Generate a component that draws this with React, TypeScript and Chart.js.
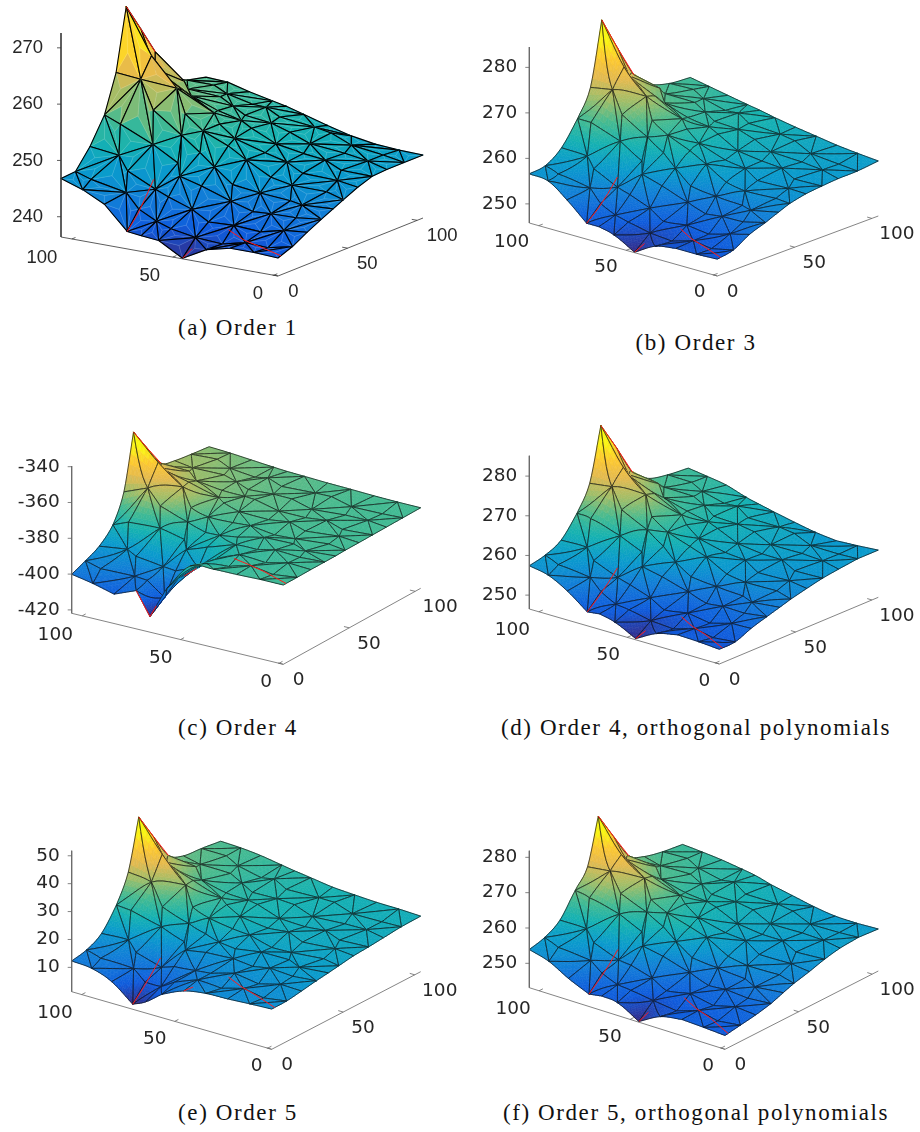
import React, { useEffect, useRef } from "react";
import { Chart, registerables } from "chart.js";

Chart.register(...registerables);

// Plate coordinates of the mesh rows (x) and columns (y), in percent of each axis
const meshX = [100, 90, 80, 69.5, 63, 55, 44, 33, 22, 11, 0];
const meshY = [0, 10, 20, 30, 38, 45, 55, 65, 75, 87, 100];

// Small displacements of the interior mesh nodes (the mesh is unstructured)
const nodeShiftX = [
  [1.5, -2, 2, -1, 1, 2, -2, 1, -1],
  [-2, 2, -1, 1.5, -2, 0, 2, -2, 1],
  [2, -1, -2, 1, 1, -1, -2, 2, 0],
  [0, 1.5, 1, -1, -1, 1, 2, -1, 2],
  [-1, -2, 2, 1, -2, 2, -1, 1, -2],
  [2, 1, -2, 2, 1, -2, 1, 2, -1],
  [-2, 2, 1, -2, 2, -1, -2, 1, 2],
  [1, -2, 2, 1, -1, 2, 1, -2, -1],
  [-1, 1, -1, 2, 1, -2, 2, 1, -2],
];
const nodeShiftY = [
  [-2, 2, 1, -1, 0, 2, -2, 2, -2],
  [2, -1, -2, 1, 0, -2, 2, -2, 2],
  [-1, 2, 2, -2, 1, 2, -1, 1, -1],
  [2, -2, 1, 1, -1, -2, 2, 2, -2],
  [1, 2, -2, -1, 0, 2, -2, -1, 2],
  [-2, 1, 2, 2, -1, -1, 2, -2, 1],
  [2, -2, -1, 1, 2, -2, -1, 2, -2],
  [-1, 2, 1, -2, 1, 2, -2, 1, 2],
  [2, -1, -2, 2, -2, 1, 2, -2, -1],
];

// Surface heights: one array per mesh column y, one value per mesh row x
const orderOneZ = [
  [246.8, 245.5, 243.6, 239.5, 239.2, 238.9, 236.5, 238.8, 239.8, 239.8, 239.6],
  [247.0, 246.4, 244.6, 242.2, 240.9, 239.9, 238.8, 239.1, 239.5, 239.9, 240.6],
  [250.4, 249.5, 247.4, 245.2, 243.8, 242.5, 241.1, 240.7, 241.0, 241.4, 242.1],
  [255.0, 254.0, 251.0, 248.5, 246.8, 245.3, 243.4, 242.7, 242.6, 243.0, 243.4],
  [261.7, 261.0, 256.5, 252.5, 250.0, 248.2, 245.8, 244.6, 244.2, 244.4, 244.4],
  [272.7, 264.6, 259.5, 255.8, 253.2, 251.2, 249.0, 247.3, 246.4, 245.9, 245.3],
  [267.7, 261.3, 258.0, 254.8, 253.0, 251.4, 249.8, 248.4, 247.5, 246.9, 246.5],
  [262.6, 258.0, 256.2, 254.3, 253.0, 251.8, 250.4, 249.4, 248.5, 247.8, 247.4],
  [256.8, 255.7, 254.9, 253.8, 253.0, 252.0, 250.8, 250.0, 249.0, 248.2, 247.6],
  [255.3, 255.0, 254.3, 253.4, 252.7, 252.0, 250.9, 250.2, 249.3, 248.4, 247.6],
  [254.5, 254.3, 253.3, 252.4, 251.9, 251.0, 249.8, 248.7, 248.0, 247.7, 247.6],
];
const orderThreeZ = [
  [256.6, 256.2, 253.2, 249.3, 249.3, 248.4, 245.9, 248.5, 249.3, 249.3, 249.5],
  [257.1, 256.5, 254.5, 252.0, 250.8, 249.8, 248.3, 248.8, 249.3, 249.6, 250.2],
  [259.7, 259.0, 257.3, 255.0, 253.4, 251.9, 250.3, 250.0, 250.3, 250.8, 252.3],
  [264.8, 265.0, 262.0, 259.0, 257.0, 255.0, 252.8, 252.0, 252.0, 252.6, 253.6],
  [270.6, 271.0, 267.0, 263.0, 260.5, 258.3, 255.6, 254.0, 253.6, 254.0, 254.8],
  [284.5, 275.3, 270.0, 266.0, 263.5, 261.2, 258.8, 257.0, 256.0, 255.6, 255.8],
  [276.9, 272.0, 268.5, 265.0, 263.0, 261.3, 259.3, 258.0, 257.0, 256.5, 256.6],
  [269.8, 268.0, 266.0, 264.0, 262.8, 261.5, 260.0, 259.0, 258.0, 257.3, 257.0],
  [266.4, 265.5, 264.7, 263.5, 262.7, 261.7, 260.3, 259.5, 258.5, 257.8, 257.3],
  [265.0, 264.7, 264.0, 263.0, 262.3, 261.6, 260.5, 259.7, 258.8, 258.0, 257.4],
  [264.6, 263.8, 263.0, 262.2, 261.7, 261.0, 260.2, 259.5, 258.8, 258.3, 257.9],
];
const orderFourZ = [
  [-400.1, -402.4, -405.5, -400.5, -413.2, -395.1, -379.5, -378.2, -378.0, -377.6, -377.6],
  [-396.8, -398.0, -400.0, -400.0, -406.0, -394.0, -384.0, -379.5, -378.5, -378.0, -377.6],
  [-392.9, -392.0, -393.0, -394.5, -397.0, -391.0, -383.5, -380.0, -378.5, -378.0, -377.5],
  [-385.2, -381.0, -382.0, -385.0, -388.0, -385.5, -381.0, -379.0, -378.0, -377.6, -377.5],
  [-370.2, -366.0, -372.0, -379.0, -382.5, -381.0, -379.0, -378.0, -377.6, -377.5, -377.5],
  [-339.7, -354.0, -365.0, -373.0, -376.5, -377.0, -377.5, -377.0, -377.0, -377.2, -377.3],
  [-353.0, -361.0, -367.0, -372.0, -374.5, -375.5, -376.0, -376.3, -376.8, -377.0, -377.3],
  [-365.7, -367.5, -369.5, -372.0, -373.5, -374.5, -375.3, -376.0, -376.5, -377.0, -377.2],
  [-368.5, -369.5, -371.0, -372.5, -373.5, -374.5, -375.3, -376.0, -376.5, -377.0, -377.1],
  [-370.0, -370.5, -372.0, -373.0, -374.0, -374.6, -375.5, -376.0, -376.5, -376.9, -377.0],
  [-371.3, -372.0, -373.0, -374.0, -374.6, -375.0, -375.6, -376.0, -376.5, -376.8, -376.9],
];
const orderFourOrthoZ = [
  [257.4, 256.4, 253.8, 250.0, 250.4, 249.4, 246.8, 249.6, 250.8, 250.6, 250.2],
  [258.4, 257.5, 255.5, 253.0, 251.5, 250.7, 249.0, 249.7, 250.2, 250.4, 250.4],
  [260.5, 260.0, 258.0, 255.8, 254.0, 252.5, 251.0, 250.8, 251.0, 251.4, 252.1],
  [265.6, 265.5, 262.5, 260.0, 257.5, 255.5, 253.4, 252.6, 252.5, 252.9, 253.4],
  [271.8, 272.0, 268.0, 264.0, 261.0, 258.5, 256.2, 254.5, 254.0, 254.2, 254.4],
  [285.2, 276.0, 270.5, 266.5, 263.5, 261.2, 259.2, 257.5, 256.5, 255.8, 255.3],
  [277.8, 272.5, 268.8, 265.2, 263.0, 261.3, 259.7, 258.4, 257.3, 256.7, 256.3],
  [270.0, 268.5, 266.5, 264.5, 262.8, 261.5, 260.3, 259.2, 258.3, 257.6, 257.2],
  [266.8, 266.0, 265.0, 263.8, 262.6, 261.5, 260.5, 259.6, 258.8, 258.2, 257.8],
  [265.7, 265.0, 264.3, 263.2, 262.3, 261.3, 260.4, 259.6, 258.9, 258.5, 258.4],
  [265.2, 264.5, 263.7, 262.1, 261.3, 260.4, 259.3, 258.3, 257.7, 258.0, 258.4],
];
const orderFiveZ = [
  [12.3, 11.7, 9.0, 3.1, 5.3, 9.6, 13.1, 14.5, 14.8, 15.3, 15.7],
  [13.5, 12.8, 10.8, 7.5, 8.5, 11.0, 13.3, 14.5, 15.0, 15.4, 15.8],
  [16.6, 16.2, 13.8, 11.5, 11.8, 13.0, 14.4, 15.2, 15.6, 16.0, 16.6],
  [24.0, 24.0, 20.0, 17.0, 15.8, 15.8, 16.0, 16.5, 16.8, 17.1, 17.5],
  [33.6, 31.5, 25.5, 21.0, 19.0, 18.3, 18.0, 17.8, 17.9, 18.0, 18.1],
  [51.4, 40.0, 31.0, 25.5, 22.8, 21.0, 19.7, 19.2, 19.0, 18.8, 18.7],
  [41.5, 34.5, 29.5, 25.8, 23.8, 22.3, 21.0, 20.5, 20.0, 19.7, 19.5],
  [32.0, 30.0, 27.5, 25.0, 23.8, 22.8, 21.8, 21.0, 20.5, 20.2, 19.9],
  [29.1, 28.2, 26.8, 25.0, 24.0, 23.0, 22.2, 21.5, 21.0, 20.7, 20.4],
  [28.4, 27.5, 26.4, 25.0, 24.2, 23.4, 22.5, 22.0, 21.5, 21.2, 21.0],
  [27.4, 27.1, 26.4, 25.2, 24.4, 23.6, 22.5, 22.0, 21.6, 21.5, 21.2],
];
const orderFiveOrthoZ = [
  [253.9, 252.3, 249.2, 246.6, 247.2, 246.7, 243.3, 246.6, 247.7, 247.4, 247.0],
  [255.1, 254.2, 252.0, 249.8, 248.6, 247.8, 246.2, 246.8, 247.4, 247.6, 247.7],
  [257.8, 257.0, 254.8, 252.5, 251.0, 249.6, 248.0, 247.9, 248.0, 248.2, 248.4],
  [264.0, 263.5, 260.5, 257.5, 255.0, 252.8, 250.3, 249.3, 249.0, 249.2, 249.4],
  [268.9, 269.0, 265.0, 261.0, 258.3, 256.0, 253.2, 251.2, 250.5, 250.5, 250.7],
  [281.7, 272.5, 267.5, 263.5, 260.8, 258.5, 256.3, 254.3, 253.0, 252.2, 251.8],
  [273.7, 269.0, 265.5, 262.3, 260.3, 258.6, 256.8, 255.3, 254.0, 253.2, 252.9],
  [266.0, 264.7, 263.0, 261.0, 259.7, 258.5, 257.2, 256.0, 255.0, 254.4, 254.2],
  [263.6, 262.8, 262.0, 260.6, 259.6, 258.6, 257.5, 256.5, 255.7, 255.2, 255.1],
  [262.3, 261.9, 261.2, 260.2, 259.4, 258.4, 257.4, 256.4, 255.7, 255.5, 255.5],
  [261.5, 261.1, 260.6, 259.8, 259.2, 258.0, 256.8, 255.6, 254.8, 254.7, 255.0],
];

// Crack paths (red) as plate coordinates [x, y]
const crackPaths = [
  [[69.5, 0], [70, 8], [71, 15], [72, 22]],
  [[44, 0], [43, 5]],
  [[35, 18], [25, 13], [15, 9], [0, 2]],
  [[100, 45], [100, 55], [100, 65]],
];
const crackPathsOrderFour = [
  [[69.5, 0], [66, 0], [63, 0], [60, 0]],
  [[52, 8], [50, 14]],
  [[35, 18], [25, 13], [15, 9], [0, 2]],
  [[100, 45], [100, 55], [100, 65]],
];

// Axis tick labels and where they sit along each axis (percent of the axis box)
const xTickLabels = ["0", "50", "100"];
const xTickFractions = [2, 48.5, 95];
const yTickLabels = ["0", "50", "100"];
const yTickFractions = [0, 48, 96];
const zTicksA = [240, 250, 260, 270];
const zTicksB = [250, 260, 270, 280];
const zTicksC = [-420, -400, -380, -360, -340];
const zTicksD = [250, 260, 270, 280];
const zTicksE = [10, 20, 30, 40, 50];
const zTicksF = [250, 260, 270, 280];

const parula = [
  [53, 42, 135], [15, 92, 221], [18, 125, 216], [10, 155, 205], [22, 178, 178],
  [70, 187, 145], [160, 190, 105], [228, 186, 80], [253, 200, 50], [250, 245, 20], [249, 251, 14],
];
function parulaColor(t: number) {
  const v = Math.max(0, Math.min(0.9999, t)) * (parula.length - 1);
  const i = Math.floor(v), f = v - i;
  const a = parula[i], b = parula[i + 1];
  return `rgb(${a[0] + (b[0] - a[0]) * f | 0},${a[1] + (b[1] - a[1]) * f | 0},${a[2] + (b[2] - a[2]) * f | 0})`;
}

// Piecewise cubic through the values; sharp at local extrema (the element corners)
function cubicAt(vals: number[], t: number) {
  const last = vals.length - 1;
  const i = Math.max(0, Math.min(last - 1, Math.floor(t)));
  const f = t - i;
  const tangent = (k: number, side: number) => {
    if (k === 0) return vals[1] - vals[0];
    if (k === last) return vals[last] - vals[last - 1];
    const back = vals[k] - vals[k - 1], ahead = vals[k + 1] - vals[k];
    if (back * ahead <= 0) return side > 0 ? ahead : back;
    return (back + ahead) / 2;
  };
  const m0 = tangent(i, 1), m1 = tangent(i + 1, -1);
  const f2 = f * f, f3 = f2 * f;
  return (2 * f3 - 3 * f2 + 1) * vals[i] + (f3 - 2 * f2 + f) * m0 + (-2 * f3 + 3 * f2) * vals[i + 1] + (f3 - f2) * m1;
}
function surfaceAt(z: number[][], u: number, v: number) {
  return cubicAt(z.map((col) => cubicAt(col, u)), v);
}
function indexOf(axis: number[], value: number) {
  const asc = axis[1] > axis[0];
  for (let i = 0; i < axis.length - 1; i++) {
    const a = axis[i], b = axis[i + 1];
    if (asc ? value <= b : value >= b) return i + (value - a) / (b - a);
  }
  return axis.length - 1;
}

type P = [number, number];
type Panel = {
  caption: string; capX: number; capY: number;
  box: [number, number, number, number];
  L: P; F: P; R: P; z0: number; k: number; topY: number;
  z: number[][]; zTicks: number[]; cracks: number[][][];
  font: string; wire: number; wireColor: string; sub: number; axisColor: string; faceted: boolean; zLabelGap: number;
  xLabelDx: number[]; xLabelDy: number;
};

const panels: Panel[] = [
  { caption: "(a) Order 1", capX: 238, capY: 328, box: [0, 0, 462, 312], L: [61, 237], F: [278, 276], R: [423, 218], z0: 236.4, k: 5.63, topY: 33, z: orderOneZ, zTicks: zTicksA, cracks: crackPaths, font: "18.5px 'Liberation Sans'", wire: 1.1, wireColor: "#000", sub: 1, axisColor: "#333", faceted: true, zLabelGap: 18, xLabelDx: [-15.7, -23, -30], xLabelDy: 18.7 },
  { caption: "(b) Order 3", capX: 696, capY: 343, box: [462, 0, 458, 312], L: [529.3, 223], F: [717.3, 276], R: [878.3, 216], z0: 245.8, k: 4.55, topY: 47, z: orderThreeZ, zTicks: zTicksB, cracks: crackPaths, font: "18.5px 'DejaVu Sans'", wire: 0.7, wireColor: "#111", sub: 6, axisColor: "#666", faceted: false, zLabelGap: 12, xLabelDx: [-14, -20, -27], xLabelDy: 17 },
  { caption: "(c) Order 4", capX: 238, capY: 728, box: [0, 415, 462, 290], L: [71.7, 613.3], F: [283.3, 664.3], R: [420.7, 588.3], z0: -421.9, k: 1.79, topY: 466, z: orderFourZ, zTicks: zTicksC, cracks: crackPathsOrderFour, font: "18.5px 'DejaVu Sans'", wire: 0.7, wireColor: "#111", sub: 6, axisColor: "#666", faceted: false, zLabelGap: 12, xLabelDx: [-13, -20, -27], xLabelDy: 19 },
  { caption: "(d) Order 4, orthogonal polynomials", capX: 696, capY: 728, box: [462, 415, 458, 290], L: [529.3, 609], F: [719.3, 664], R: [878.3, 597.3], z0: 246.5, k: 3.967, topY: 455.7, z: orderFourOrthoZ, zTicks: zTicksD, cracks: crackPaths, font: "18.5px 'DejaVu Sans'", wire: 0.7, wireColor: "#111", sub: 6, axisColor: "#666", faceted: false, zLabelGap: 12, xLabelDx: [-11, -19, -26.5], xLabelDy: 18 },
  { caption: "(e) Order 5", capX: 238, capY: 1113, box: [0, 805, 462, 285], L: [71.7, 991.7], F: [271.7, 1049.3], R: [420.7, 971.7], z0: 1.28, k: 2.79, topY: 850.7, z: orderFiveZ, zTicks: zTicksE, cracks: crackPaths, font: "18.5px 'DejaVu Sans'", wire: 0.7, wireColor: "#111", sub: 6, axisColor: "#666", faceted: false, zLabelGap: 12, xLabelDx: [-11, -20, -26.7], xLabelDy: 18.3 },
  { caption: "(f) Order 5, orthogonal polynomials", capX: 696, capY: 1113, box: [462, 805, 458, 285], L: [529.3, 987.7], F: [725, 1049.3], R: [878.3, 971], z0: 243.1, k: 3.533, topY: 850.7, z: orderFiveOrthoZ, zTicks: zTicksF, cracks: crackPaths, font: "18.5px 'DejaVu Sans'", wire: 0.7, wireColor: "#111", sub: 6, axisColor: "#666", faceted: false, zLabelGap: 12, xLabelDx: [-13, -20, -26], xLabelDy: 18.2 },
];
const yLabelDx = [15.4, 19.7, 25];

function PanelChart({ p }: { p: Panel }) {
  const ref = useRef<HTMLCanvasElement>(null);
  useEffect(() => {
    const [bx, by, bw, bh] = p.box;
    const project = (x: number, y: number, z: number) => ({
      x: p.F[0] + ((p.L[0] - p.F[0]) * x) / 100 + ((p.R[0] - p.F[0]) * y) / 100,
      y: p.F[1] + ((p.L[1] - p.F[1]) * x) / 100 + ((p.R[1] - p.F[1]) * y) / 100 - (z - p.z0) * p.k,
    });
    const nx = meshX.length, ny = meshY.length;
    const nodes: { x: number; y: number }[] = [];
    const nodeZ: number[] = [];
    const plate: { x: number; y: number; u: number; v: number }[] = [];
    for (let j = 0; j < ny; j++) {
      for (let i = 0; i < nx; i++) {
        const inner = i > 0 && i < nx - 1 && j > 0 && j < ny - 1;
        const xv = meshX[i] + (inner ? nodeShiftX[j - 1][i - 1] : 0);
        const yv = meshY[j] + (inner ? nodeShiftY[j - 1][i - 1] : 0);
        nodes.push(project(xv, yv, p.z[j][i]));
        nodeZ.push(p.z[j][i]);
        plate.push({ x: xv, y: yv, u: i, v: j });
      }
    }
    const id = (i: number, j: number) => j * nx + i;
    const tris: number[][] = [];
    for (let j = 0; j < ny - 1; j++) {
      for (let i = 0; i < nx - 1; i++) {
        const a = id(i, j), b = id(i + 1, j), c = id(i + 1, j + 1), d = id(i, j + 1);
        if ((i + j) % 2) tris.push([a, b, c], [a, c, d]);
        else tris.push([a, b, d], [b, c, d]);
      }
    }
    const depth = (t: number[]) => t.reduce((s, n) => s + plate[n].x + plate[n].y, 0);
    tris.sort((s, t) => depth(t) - depth(s));
    const zMin = Math.min(...nodeZ), zMax = Math.max(...nodeZ);

    const cracks: any[] = [];
    p.cracks.forEach((path) => {
      path.forEach(([x, y]) => {
        const u = indexOf(meshX, x), v = indexOf(meshY, y);
        cracks.push(project(x, y, surfaceAt(p.z, u, v)));
      });
      cracks.push({ x: null, y: null });
    });
    const floor = (x: number, y: number) => project(x, y, p.z0);
    const axes: any[] = [
      { x: p.L[0], y: p.topY }, { x: p.L[0], y: p.L[1] }, floor(0, 0), floor(0, 100),
      { x: null, y: null },
    ];
    xTickFractions.forEach((f) => axes.push(floor(f, 0), floor(f, 2.5), { x: null, y: null }));
    yTickFractions.forEach((f) => axes.push(floor(0, f), floor(2.5, f), { x: null, y: null }));
    p.zTicks.forEach((t) => {
      const yy = p.L[1] - (t - p.z0) * p.k;
      axes.push({ x: p.L[0], y: yy }, { x: p.L[0] - 4, y: yy }, { x: null, y: null });
    });

    const meshPlugin = {
      id: "mesh",
      beforeDatasetsDraw(chart: any) {
        const ctx = chart.ctx;
        const sx = chart.scales.x, sy = chart.scales.y;
        const pts = chart.getDatasetMeta(0).data;
        ctx.save();
        ctx.lineJoin = "round";
        const tone = (z: number) => parulaColor((z - zMin) / (zMax - zMin));
        const paint = (s: any, q: any, r: any) => {
          const col = tone((s.z + q.z + r.z) / 3);
          ctx.beginPath();
          ctx.moveTo(s.x, s.y);
          ctx.lineTo(q.x, q.y);
          ctx.lineTo(r.x, r.y);
          ctx.closePath();
          ctx.fillStyle = col;
          ctx.strokeStyle = col;
          ctx.lineWidth = 0.6;
          ctx.fill();
          ctx.stroke();
        };
        for (const t of tris) {
          if (p.faceted) {
            const [a, b, c] = t.map((q) => ({ x: pts[q].x, y: pts[q].y, z: nodeZ[q] }));
            const g = { x: (a.x + b.x + c.x) / 3, y: (a.y + b.y + c.y) / 3, z: (a.z + b.z + c.z) / 3 };
            paint(a, b, g);
            paint(b, c, g);
            paint(c, a, g);
            ctx.beginPath();
            [a, b, c].forEach((q) => {
              ctx.moveTo(g.x, g.y);
              ctx.lineTo(q.x, q.y);
            });
            ctx.strokeStyle = "rgba(255,255,255,0.28)";
            ctx.lineWidth = 0.5;
            ctx.stroke();
            ctx.beginPath();
            ctx.moveTo(a.x, a.y);
            ctx.lineTo(b.x, b.y);
            ctx.lineTo(c.x, c.y);
            ctx.closePath();
            ctx.strokeStyle = p.wireColor;
            ctx.lineWidth = p.wire;
            ctx.stroke();
            continue;
          }
          const [pa, pb, pc] = t.map((q) => plate[q]);
          const n = p.sub;
          const at = (u: number, v: number) => {
            const w = n - u - v;
            const px = (pa.x * w + pb.x * u + pc.x * v) / n;
            const py = (pa.y * w + pb.y * u + pc.y * v) / n;
            const z = surfaceAt(p.z, (pa.u * w + pb.u * u + pc.u * v) / n, (pa.v * w + pb.v * u + pc.v * v) / n);
            const q = project(px, py, z);
            return { x: sx.getPixelForValue(q.x), y: sy.getPixelForValue(q.y), z };
          };
          const grid: any[][] = [];
          for (let u = 0; u <= n; u++) {
            grid[u] = [];
            for (let v = 0; v <= n - u; v++) grid[u][v] = at(u, v);
          }
          for (let u = 0; u < n; u++) {
            for (let v = 0; v < n - u; v++) {
              paint(grid[u][v], grid[u + 1][v], grid[u][v + 1]);
              if (u + v < n - 1) paint(grid[u + 1][v], grid[u + 1][v + 1], grid[u][v + 1]);
            }
          }
          ctx.beginPath();
          ctx.moveTo(grid[0][0].x, grid[0][0].y);
          for (let s = 1; s <= n; s++) ctx.lineTo(grid[s][0].x, grid[s][0].y);
          for (let s = 1; s <= n; s++) ctx.lineTo(grid[n - s][s].x, grid[n - s][s].y);
          for (let s = 1; s <= n; s++) ctx.lineTo(grid[0][n - s].x, grid[0][n - s].y);
          ctx.closePath();
          ctx.strokeStyle = p.wireColor;
          ctx.lineWidth = p.wire;
          ctx.stroke();
        }
        ctx.restore();
      },
      afterDatasetsDraw(chart: any) {
        const ctx = chart.ctx;
        const sx = chart.scales.x, sy = chart.scales.y;
        ctx.save();
        ctx.font = p.font;
        ctx.fillStyle = "#262626";
        ctx.textBaseline = "middle";
        ctx.textAlign = "right";
        p.zTicks.forEach((t) => {
          ctx.fillText(String(t), sx.getPixelForValue(p.L[0] - p.zLabelGap), sy.getPixelForValue(p.L[1] - (t - p.z0) * p.k));
        });
        ctx.textAlign = "center";
        xTickLabels.forEach((s, i) => {
          const q = floor(xTickFractions[i], 0);
          ctx.fillText(s, sx.getPixelForValue(q.x + p.xLabelDx[i]), sy.getPixelForValue(q.y + p.xLabelDy));
        });
        yTickLabels.forEach((s, i) => {
          const q = floor(0, yTickFractions[i]);
          ctx.fillText(s, sx.getPixelForValue(q.x + yLabelDx[i]), sy.getPixelForValue(q.y + 16));
        });
        ctx.restore();
      },
    };

    const chart = new Chart(ref.current!, {
      type: "scatter",
      data: {
        datasets: [
          { label: "surface", data: nodes, pointRadius: 0, showLine: false },
          { label: "axes", data: axes, pointRadius: 0, showLine: true, borderColor: p.axisColor, borderWidth: 0.8 },
          { label: "cracks", data: cracks, pointRadius: 0, showLine: true, borderColor: "#ff1a1a", borderWidth: 1 },
        ],
      },
      options: {
        animation: false,
        responsive: false,
        events: [],
        layout: { padding: 0 },
        plugins: { legend: { display: false }, tooltip: { enabled: false }, title: { display: false } },
        scales: {
          x: { type: "linear", min: bx, max: bx + bw, display: false },
          y: { type: "linear", min: by, max: by + bh, reverse: true, display: false },
        },
      },
      plugins: [meshPlugin],
    } as any);
    return () => chart.destroy();
  }, [p]);
  const [bx, by, bw, bh] = p.box;
  return (
    <canvas
      ref={ref}
      width={bw}
      height={bh}
      style={{ position: "absolute", left: bx, top: by, width: bw, height: bh }}
    />
  );
}

export default function App() {
  return (
    <div style={{ position: "absolute", left: 0, top: 0, width: 920, height: 1132, background: "#fff", overflow: "hidden" }}>
      {panels.map((p) => (
        <React.Fragment key={p.caption}>
          <PanelChart p={p} />
          <div
            style={{
              position: "absolute",
              left: p.capX - 230,
              top: p.capY - 15,
              width: 460,
              height: 30,
              lineHeight: "30px",
              textAlign: "center",
              fontFamily: "'Liberation Serif', serif",
              fontSize: 23,
              letterSpacing: 1.6,
              whiteSpace: "nowrap",
              color: "#111",
            }}
          >
            {p.caption}
          </div>
        </React.Fragment>
      ))}
    </div>
  );
}
